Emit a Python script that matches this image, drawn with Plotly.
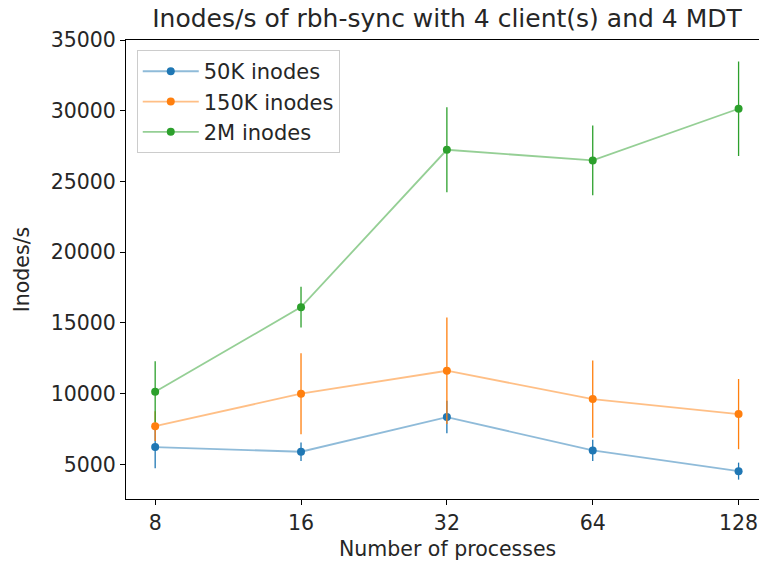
import math
import plotly.graph_objects as go

processes = [8, 16, 32, 64, 128]
tick_labels = ["8", "16", "32", "64", "128"]
y_tick_vals = [5000, 10000, 15000, 20000, 25000, 30000, 35000]
y_tick_labels = ["5000", "10000", "15000", "20000", "25000", "30000", "35000"]

series_names = ["50K inodes", "150K inodes", "2M inodes"]
vals_50k = [6230, 5900, 8350, 5990, 4530]
err_50k = [1500, 650, 1150, 750, 600]
vals_150k = [7710, 10000, 11625, 9620, 8560]
err_150k = [1050, 2860, 3770, 2730, 2480]
vals_2m = [10140, 16120, 27240, 26490, 30140]
err_2m = [2150, 1440, 3000, 2470, 3340]

colors = ["#1f77b4", "#ff7f0e", "#2ca02c"]
line_colors = ["rgba(31,119,180,0.5)", "rgba(255,127,14,0.5)", "rgba(44,160,44,0.5)"]

FONT = "DejaVu Sans"
TXT = "#262626"
W, H = 759, 562
ML, MT, MB = 126, 40, 63
plot_h = H - MT - MB
plot_w = W - ML

fig = go.Figure()
for name, vals, errs, c, lc in zip(series_names, [vals_50k, vals_150k, vals_2m],
                                   [err_50k, err_150k, err_2m], colors, line_colors):
    fig.add_trace(go.Scatter(
        x=processes, y=vals, name=name, mode="lines+markers",
        line=dict(color=lc, width=1.8),
        marker=dict(color=c, size=8),
        error_y=dict(type="data", array=errs, visible=True, color=c, thickness=1.3, width=0),
    ))

lx = math.log10(2)
# axes centre (matplotlib axes extend past the right edge of the picture)
axes_center_px = 447

fig.update_layout(
    width=W, height=H,
    margin=dict(l=ML, r=0, t=MT, b=MB),
    paper_bgcolor="white", plot_bgcolor="white",
    font=dict(family=FONT, size=20, color=TXT),
    title=dict(text="Inodes/s of rbh-sync with 4 client(s) and 4 MDT",
               x=axes_center_px / W, xref="container", xanchor="center",
               y=1 - 18 / H, yref="container", yanchor="middle",
               font=dict(family=FONT, size=25, color=TXT)),
    showlegend=True,
    legend=dict(x=0.017, y=0.978, xanchor="left", yanchor="top",
                bgcolor="rgba(255,255,255,0.8)", bordercolor="#cccccc", borderwidth=1,
                font=dict(family=FONT, size=21, color=TXT),
                itemwidth=56, tracegroupgap=0),
    xaxis=dict(type="log",
               range=[math.log10(8) - 0.2 * lx, math.log10(8) + 4.14 * lx],
               tickvals=processes, ticktext=tick_labels,
               showline=True, linecolor="black", linewidth=1, mirror=True,
               ticks="outside", ticklen=5, tickcolor="black", showgrid=False, zeroline=False,
               tickfont=dict(family=FONT, size=20.5, color=TXT)),
    yaxis=dict(range=[2560, 35000],
               tickvals=y_tick_vals, ticktext=y_tick_labels,
               showline=True, linecolor="black", linewidth=1, mirror=False,
               ticks="outside", ticklen=5, tickcolor="black", showgrid=False, zeroline=False,
               tickfont=dict(family=FONT, size=20.5, color=TXT),
               title=dict(text="Inodes/s", standoff=15,
                          font=dict(family=FONT, size=20.5, color=TXT))),
    annotations=[dict(text="Number of processes", xref="paper", yref="paper",
                      x=(axes_center_px - ML) / plot_w, y=-(549 - (H - MB)) / plot_h,
                      xanchor="center", yanchor="middle", showarrow=False,
                      font=dict(family=FONT, size=20.5, color=TXT))],
)

fig.write_html("out.html", config={"displayModeBar": False},
               post_script="document.body.style.margin='0px';")
